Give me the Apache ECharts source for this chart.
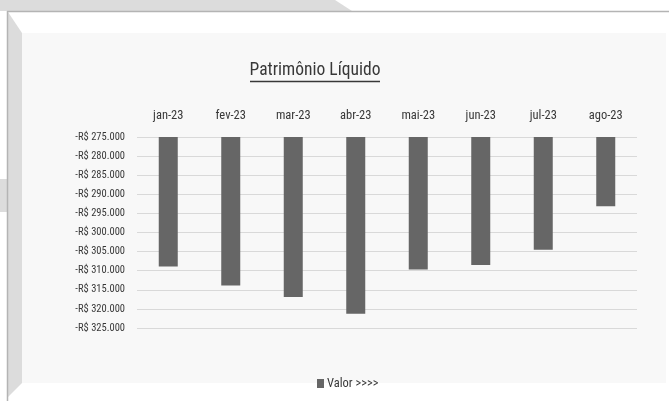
<!DOCTYPE html>
<html>
<head>
<meta charset="utf-8">
<script src="https://cdn.jsdelivr.net/npm/echarts@6/dist/echarts.min.js"></script>
<style>
html,body{margin:0;padding:0;background:#fff;}
#chart{width:669px;height:401px;}
</style>
</head>
<body>
<div id="chart"></div>
<script>
var meses = ['jan-23','fev-23','mar-23','abr-23','mai-23','jun-23','jul-23','ago-23'];
var valores = [-308900, -313900, -316900, -321300, -309700, -308500, -304500, -293100];
var nomeSerie = 'Valor >>>>';
var titulo = 'Patrimônio Líquido';

var fonte = '"Roboto Condensed", "Liberation Sans Narrow", sans-serif';
var corTexto = '#383838';

function formatReal(v) {
    var s = String(Math.abs(v)).replace(/\B(?=(\d{3})+(?!\d))/g, '.');
    return (v < 0 ? '-' : '') + 'R$ ' + s;
}

var myChart = echarts.init(document.getElementById('chart'));

option = {
    backgroundColor: '#ffffff',
    animation: false,
    graphic: [
        // moldura de fundo (print da planilha)
        {type: 'polygon', shape: {points: [[0,0],[335,0],[352,11],[0,11]]}, style: {fill: '#dcdcdc'}, z: -10},
        {type: 'rect', shape: {x: 0, y: 179, width: 8, height: 33}, style: {fill: '#dcdcdc'}, z: -10},
        {type: 'polygon', shape: {points: [[8,12],[22,33],[22,383],[8,397]]}, style: {fill: '#dcdcdc'}, z: -10},
        {type: 'rect', shape: {x: 22, y: 33, width: 644, height: 350}, style: {fill: '#f8f8f8'}, z: -10},
        {type: 'line', shape: {x1: 7, y1: 11.5, x2: 669, y2: 11.5}, style: {stroke: '#b4b4b4', lineWidth: 1.5}, z: -9},
        {type: 'line', shape: {x1: 7.5, y1: 11, x2: 7.5, y2: 401}, style: {stroke: '#b4b4b4', lineWidth: 1.5}, z: -9},
        // sublinhado do titulo
        {type: 'line', shape: {x1: 250, y1: 81.5, x2: 380, y2: 81.5}, style: {stroke: corTexto, lineWidth: 1.3}}
    ],
    title: {
        text: titulo,
        left: 315,
        textAlign: 'center',
        top: 62,
        padding: 0,
        textStyle: {
            fontFamily: fonte,
            fontSize: 17.5,
            fontWeight: 'normal',
            color: corTexto
        }
    },
    legend: {
        data: [nomeSerie],
        left: 317,
        top: 377,
        padding: 0,
        icon: 'rect',
        itemWidth: 7,
        itemHeight: 9,
        textStyle: {
            fontFamily: fonte,
            fontSize: 12.5,
            color: corTexto,
            padding: [0, 0, 0, -2]
        }
    },
    grid: {
        left: 137,
        right: 32,
        top: 137,
        bottom: 73
    },
    xAxis: [
        {
            type: 'category',
            data: meses,
            position: 'top',
            axisLine: {show: false, onZero: false},
            axisTick: {show: false},
            axisLabel: {
                fontFamily: fonte,
                fontSize: 12.5,
                color: corTexto,
                margin: 15
            }
        }
    ],
    yAxis: [
        {
            type: 'value',
            min: -325000,
            max: -275000,
            interval: 5000,
            axisLine: {show: false},
            axisTick: {show: false},
            splitLine: {lineStyle: {color: '#d9d9d9', width: 1}},
            axisLabel: {
                fontFamily: fonte,
                fontSize: 10.5,
                color: corTexto,
                margin: 12,
                formatter: formatReal
            }
        }
    ],
    series: [
        {
            name: nomeSerie,
            type: 'bar',
            barWidth: 19,
            clip: true,
            itemStyle: {color: '#666666'},
            data: valores
        }
    ]
};

myChart.setOption(option);
</script>
</body>
</html>
